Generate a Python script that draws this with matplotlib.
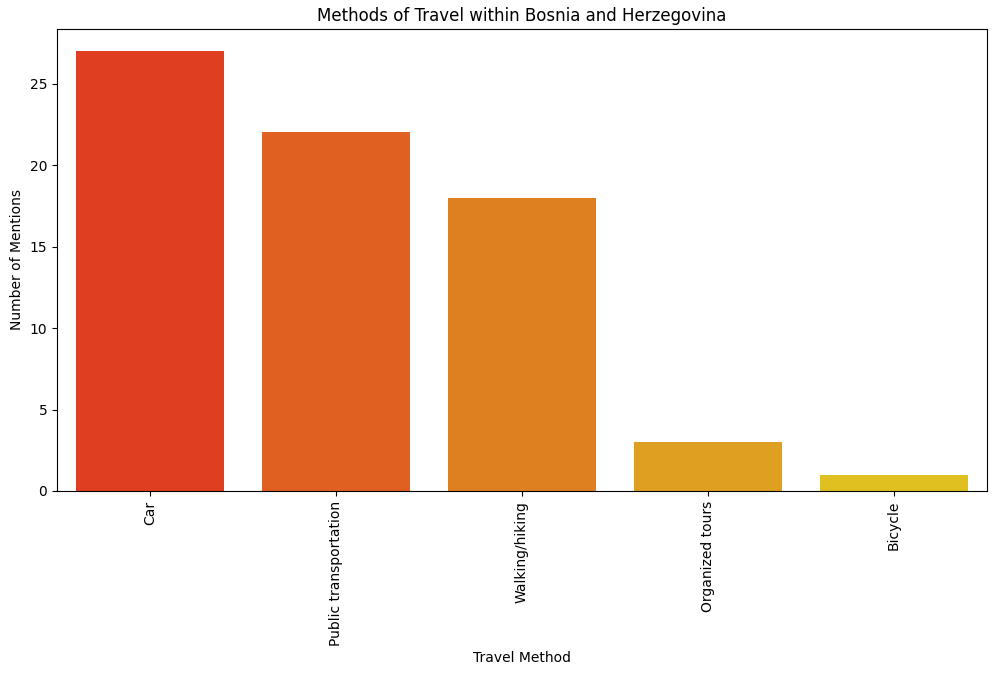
import matplotlib
matplotlib.use("Agg")
import matplotlib.pyplot as plt
import seaborn as sns
import pandas as pd

methods = ["Car", "Public transportation", "Walking/hiking", "Organized tours", "Bicycle"]
mentions = [27, 22, 18, 3, 1]

df = pd.DataFrame({"Travel Method": methods, "Number of Mentions": mentions})

fig = plt.figure(figsize=(9.97, 6.76), dpi=100)
ax = fig.add_axes([57 / 997, 1 - 491 / 676, 930 / 997, 462 / 676])
sns.barplot(data=df, x="Travel Method", y="Number of Mentions", hue="Travel Method",
            palette="autumn", legend=False, ax=ax)
ax.set_title("Methods of Travel within Bosnia and Herzegovina")
ax.tick_params(axis="x", rotation=90)
fig.savefig("out.png", dpi=100)
